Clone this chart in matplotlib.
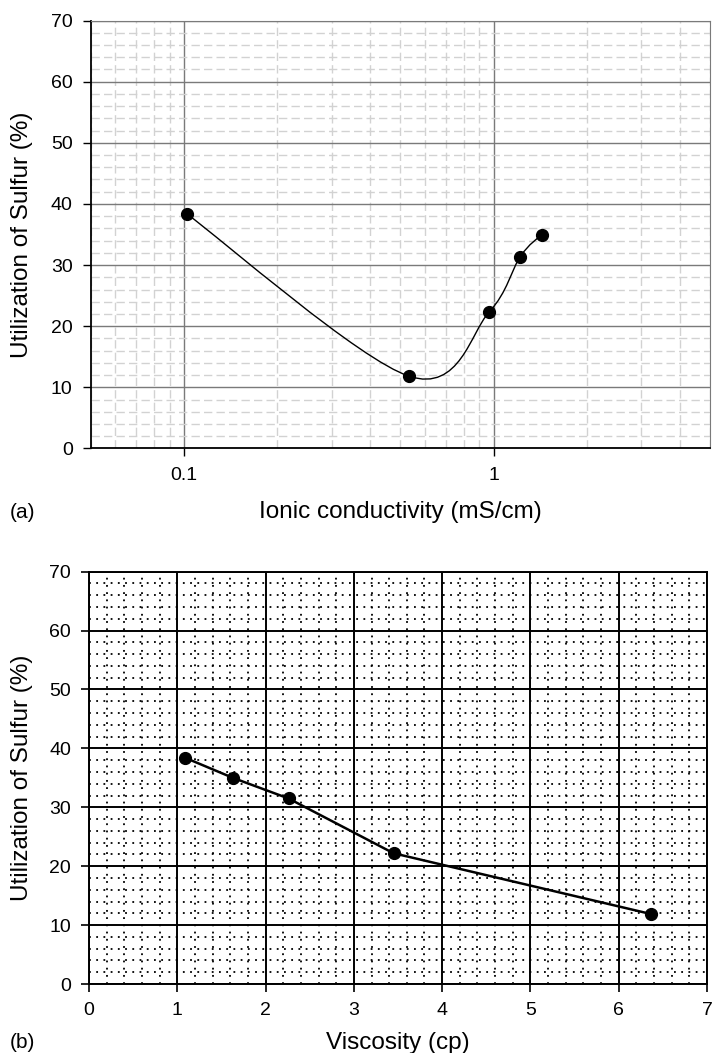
import matplotlib
matplotlib.use("Agg")
import matplotlib.pyplot as plt
from matplotlib.path import Path
from matplotlib.patches import PathPatch
from matplotlib.ticker import MultipleLocator, LogLocator, FixedLocator, NullFormatter
import numpy as np

plt.rcParams['font.family'] = ['Liberation Sans', 'DejaVu Sans']

# datos
conductividad = [0.102, 0.535, 0.967, 1.22, 1.43]   # mS/cm
util_a = [38.4, 11.8, 22.3, 31.4, 35.0]              # %
viscosidad = [1.09, 1.63, 2.26, 3.45, 6.36]          # cp
util_b = [38.4, 35.0, 31.5, 22.2, 11.9]              # %

etiqueta_y = "Utilization of Sulfur (%)"
T_TICK = 14
T_ETIQ = 17.5


def curva_suave(xs, ys):
    """Bezier tipo Excel (Catmull-Rom) en espacio log10(x), y."""
    px = np.log10(xs)
    py = np.array(ys, dtype=float)
    n = len(px)
    verts = [(px[0], py[0])]
    codes = [Path.MOVETO]
    for i in range(n - 1):
        i0 = max(i - 1, 0)
        i3 = min(i + 2, n - 1)
        c1 = (px[i] + (px[i + 1] - px[i0]) / 6, py[i] + (py[i + 1] - py[i0]) / 6)
        c2 = (px[i + 1] - (px[i3] - px[i]) / 6, py[i + 1] - (py[i3] - py[i]) / 6)
        verts += [c1, c2, (px[i + 1], py[i + 1])]
        codes += [Path.CURVE4] * 3
    verts = [(10 ** vx, vy) for vx, vy in verts]
    return Path(verts, codes)


fig = plt.figure(figsize=(7.12, 10.53), dpi=100)

# ---------------- (a) ----------------
ax1 = fig.add_axes([0.1274, 0.5741, 0.8698, 0.4064])
ax1.set_xscale('log')
ax1.set_xlim(0.05, 5)
ax1.set_ylim(0, 70)
ax1.yaxis.set_major_locator(MultipleLocator(10))
ax1.yaxis.set_minor_locator(MultipleLocator(2))
ax1.xaxis.set_major_locator(FixedLocator([0.1, 1]))
ax1.xaxis.set_minor_locator(LogLocator(base=10, subs=np.arange(2, 10)))
ax1.xaxis.set_minor_formatter(NullFormatter())
ax1.set_xticklabels(['0.1', '1'])
ax1.grid(which='minor', color='#d2d2d2', linestyle=(0, (6, 3)), linewidth=1.0)
ax1.grid(which='major', color='#7a7a7a', linestyle='-', linewidth=1.0)
ax1.set_axisbelow(True)
for lado in ['top', 'right']:
    ax1.spines[lado].set_color('#7a7a7a')
for lado in ['left', 'bottom']:
    ax1.spines[lado].set_color('black')
    ax1.spines[lado].set_linewidth(1.3)
ax1.tick_params(which='minor', length=0)
ax1.tick_params(which='major', length=6, width=1, labelsize=T_TICK, pad=7)

ax1.add_patch(PathPatch(curva_suave(conductividad, util_a), facecolor='none',
                        edgecolor='black', linewidth=1.0, zorder=3))
ax1.plot(conductividad, util_a, 'o', color='black', markersize=8.5, zorder=4)
ax1.set_xlabel('Ionic conductivity (mS/cm)', fontsize=T_ETIQ, va='center')
ax1.xaxis.set_label_coords(0.5, -0.148)
ax1.set_ylabel(etiqueta_y, fontsize=T_ETIQ, va='center')
ax1.yaxis.set_label_coords(-0.111, 0.5)
fig.text(10 / 712, 1 - 512 / 1053, '(a)', fontsize=15, ha='left', va='center')

# ---------------- (b) ----------------
ax2 = fig.add_axes([0.125, 0.0655, 0.868, 0.3916])
ax2.set_xlim(0, 7)
ax2.set_ylim(0, 70)
ax2.xaxis.set_major_locator(MultipleLocator(1))
ax2.xaxis.set_minor_locator(MultipleLocator(0.2))
ax2.yaxis.set_major_locator(MultipleLocator(10))
ax2.yaxis.set_minor_locator(MultipleLocator(2))
ax2.grid(which='minor', color='black', linestyle=(0, (1, 3)), linewidth=1.3)
ax2.grid(which='major', color='black', linestyle='-', linewidth=1.4)
ax2.set_axisbelow(True)
for lado in ax2.spines:
    ax2.spines[lado].set_linewidth(1.4)
ax2.tick_params(which='minor', length=0)
ax2.tick_params(which='major', length=6, width=1.2, labelsize=T_TICK, pad=7)

ax2.plot(viscosidad, util_b, '-o', color='black', linewidth=1.8,
         markersize=8.5, zorder=4)
ax2.set_xlabel('Viscosity (cp)', fontsize=T_ETIQ, va='center')
ax2.xaxis.set_label_coords(0.5, -0.143)
ax2.set_ylabel(etiqueta_y, fontsize=T_ETIQ, va='center')
ax2.yaxis.set_label_coords(-0.108, 0.5)
fig.text(10 / 712, 1 - 1043 / 1053, '(b)', fontsize=15, ha='left', va='center')

fig.savefig('out.png', dpi=100)
